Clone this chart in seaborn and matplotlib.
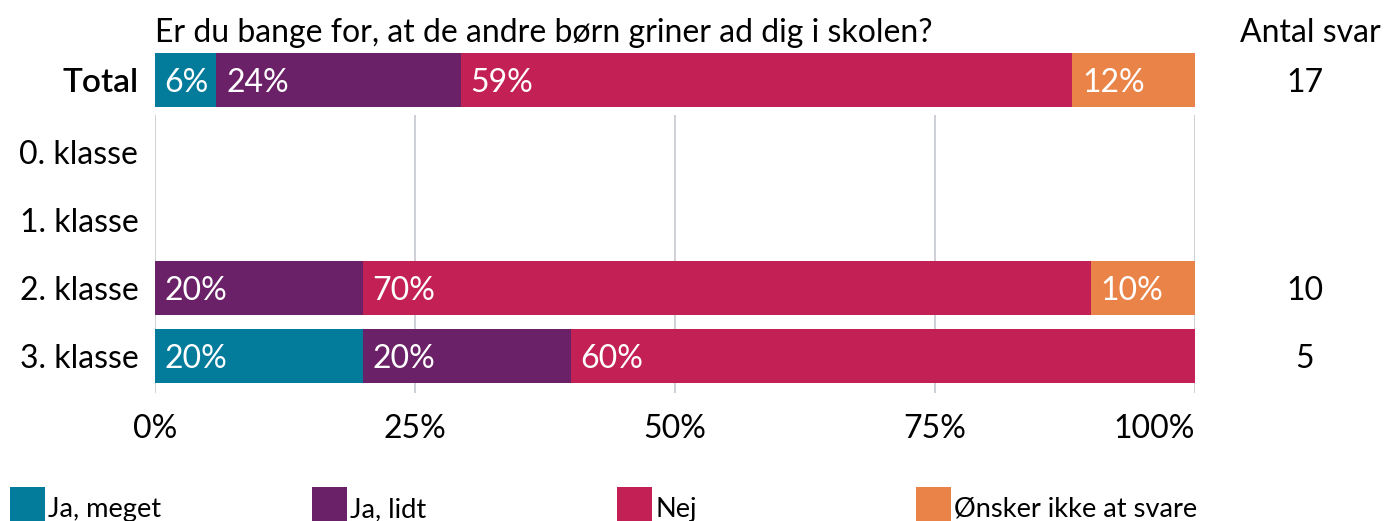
import matplotlib
matplotlib.use("Agg")
import matplotlib.pyplot as plt
import matplotlib.patches as mpatches
import seaborn as sns
import pandas as pd

# ---------------- data ----------------
title = "Er du bange for, at de andre børn griner ad dig i skolen?"
answers = ["Ja, meget", "Ja, lidt", "Nej", "Ønsker ikke at svare"]
colors = ["#037B9A", "#6A2167", "#C32056", "#EA8347"]

total_label = "Total"
total_values = [5.9, 23.5, 58.8, 11.8]
total_n = 17

classes = ["0. klasse", "1. klasse", "2. klasse", "3. klasse"]
ja_meget = [0, 0, 0, 20]
ja_lidt = [0, 0, 20, 20]
nej = [0, 0, 70, 60]
onsker = [0, 0, 10, 0]
antal = [None, None, 10, 5]

xticks = [0, 25, 50, 75, 100]
xticklabels = ["0%", "25%", "50%", "75%", "100%"]

# ---------------- style ----------------
sns.set_theme(style="white")
plt.rcParams["font.family"] = ["Lato", "DejaVu Sans"]
plt.rcParams["text.color"] = "black"
plt.rcParams["xtick.color"] = "black"
plt.rcParams["ytick.color"] = "black"
FS = 23

fig = plt.figure(figsize=(13.85, 5.21), dpi=100)
W, H = 1385, 521
left = 155 / W
width = 1040 / W
ax_top = fig.add_axes([left, 1 - 114 / H, width, 68 / H])
ax = fig.add_axes([left, 1 - 393 / H, width, 278 / H])


def stacked(axis, cats, series, order):
    df = pd.DataFrame({"cat": cats})
    cum = [0] * len(cats)
    cums = []
    for s in series:
        cum = [c + v for c, v in zip(cum, s)]
        cums.append(list(cum))
    # draw from the outermost cumulative to the innermost
    for k in range(len(series) - 1, -1, -1):
        df["val"] = cums[k]
        sns.barplot(data=df, x="val", y="cat", order=order, orient="h",
                    color=colors[k], saturation=1, width=0.8, linewidth=0,
                    ax=axis)
    # labels
    for i, cat in enumerate(cats):
        row = order.index(cat)
        start = 0
        for k, s in enumerate(series):
            v = s[i]
            if v > 0:
                axis.annotate(f"{round(v):d}%", xy=(start, row),
                              xytext=(7, 0), textcoords="offset points",
                              ha="left", va="center_baseline", color="white",
                              fontsize=FS)
            start += v


stacked(ax_top, [total_label], [[v] for v in total_values], [total_label])
stacked(ax, classes, [ja_meget, ja_lidt, nej, onsker], classes)

for a in (ax_top, ax):
    a.set_xlim(0, 100)
    a.set_xlabel("")
    a.set_ylabel("")
    for sp in a.spines.values():
        sp.set_visible(False)
    a.tick_params(axis="y", length=0, pad=12, labelsize=FS)

ax_top.set_ylim(0.5, -0.5)
ax_top.set_xticks([])
for lbl in ax_top.get_yticklabels():
    lbl.set_fontweight("semibold")
    lbl.set_fontsize(24)

ax.set_ylim(3.54, -0.54)
ax.set_xticks(xticks)
ax.set_xticklabels(xticklabels)
ax.tick_params(axis="x", length=0, pad=15, labelsize=FS)
ax.get_xticklabels()[-1].set_ha("right")
ax.grid(axis="x", color="#C9CDD1", linewidth=1.3)
ax.set_axisbelow(True)

# Counts column
xc = (1305 - 155) / 1040
ax_top.text(xc, 0, str(total_n), transform=ax_top.get_yaxis_transform(),
            ha="center", va="center_baseline", fontsize=FS)
for i, n in enumerate(antal):
    if n is not None:
        ax.text(xc, i, str(n), transform=ax.get_yaxis_transform(),
                ha="center", va="center_baseline", fontsize=FS)

fig.text(155 / W, 1 - 42 / H, title, ha="left", va="baseline", fontsize=FS)
fig.text(1310 / W, 1 - 42 / H, "Antal svar", ha="center", va="baseline",
         fontsize=FS)

# Legend (bottom, partially cut off as in the original)
leg_x = [10, 312, 617, 916]
for xpos, lab, col in zip(leg_x, answers, colors):
    fig.patches.append(mpatches.Rectangle((xpos / W, 0), 35 / W, 34 / H,
                                          transform=fig.transFigure,
                                          facecolor=col, edgecolor="none"))
    fig.text((xpos + 38) / W, 1 - 517 / H, lab, ha="left", va="baseline",
             fontsize=19.6)

fig.savefig("out.png", dpi=100)
